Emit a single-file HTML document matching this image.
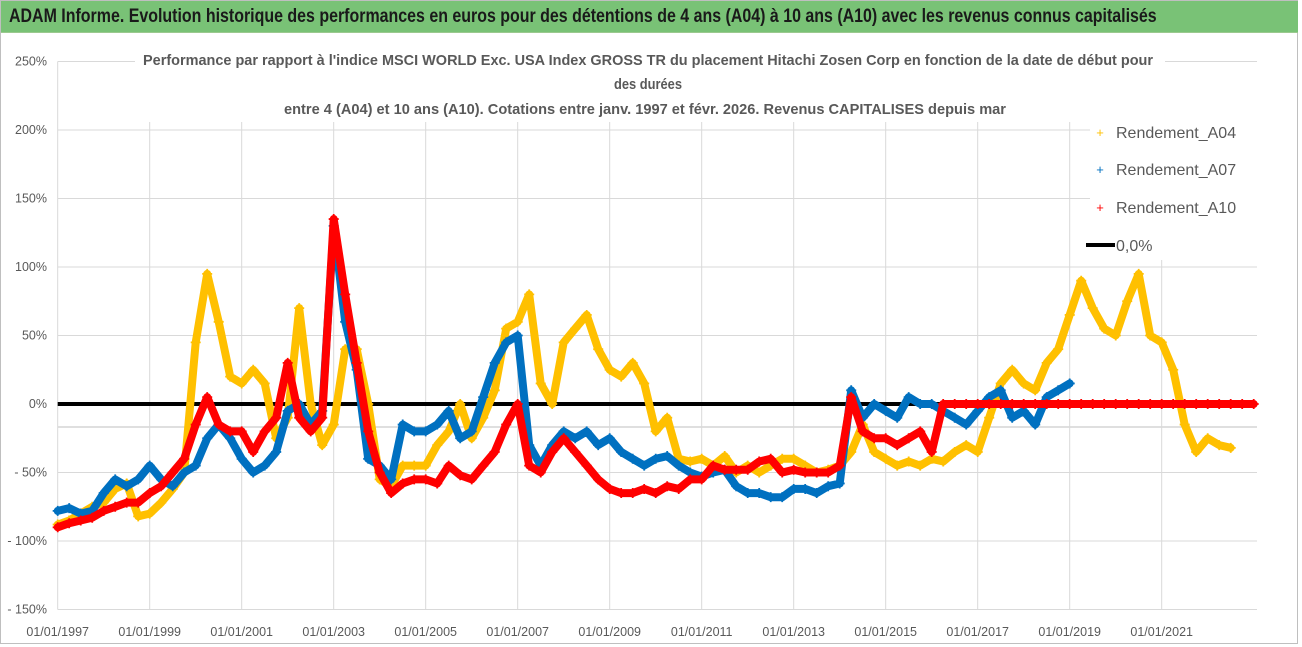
<!DOCTYPE html>
<html><head><meta charset="utf-8"><style>
html,body{margin:0;padding:0;background:#fff;}
body{width:1302px;height:647px;overflow:hidden;position:relative;font-family:"Liberation Sans",sans-serif;}
#frame{position:absolute;left:0;top:0;width:1298px;height:644px;border:1px solid #bfbfbf;box-sizing:border-box;}
#titlebar{position:absolute;left:1px;top:1px;width:1297px;height:31px;background:#79c276;border-bottom:1px solid #9bc98f;}
#titlebar span{position:absolute;left:8px;top:5px;font-weight:bold;font-size:19px;color:#1a1a1a;white-space:nowrap;transform-origin:left top;transform:scaleX(0.84);}
</style></head><body>
<div id="frame"></div>
<div id="titlebar"><span>ADAM Informe. Evolution historique des performances en euros pour des détentions de 4 ans (A04) à 10 ans (A10) avec les revenus connus capitalisés</span></div>
<svg id="chart" width="1302" height="647" style="position:absolute;left:0;top:0"></svg>
<script>
const startYear = 1997;
const stepYears = 0.25;
const xTickLabels = ["01/01/1997","01/01/1999","01/01/2001","01/01/2003","01/01/2005","01/01/2007","01/01/2009","01/01/2011","01/01/2013","01/01/2015","01/01/2017","01/01/2019","01/01/2021"];
const xTickYears = [1997,1999,2001,2003,2005,2007,2009,2011,2013,2015,2017,2019,2021];
const yTickValues = [250,200,150,100,50,0,-50,-100,-150];
const yTickLabels = ["250%","200%","150%","100%","50%","0%","- 50%","- 100%","- 150%"];
const seriesA04 = [-88,-85,-80,-75,-72,-62,-58,-82,-80,-72,-62,-50,45,95,60,20,15,25,15,-25,-10,70,0,-30,-15,40,40,0,-55,-60,-45,-45,-45,-30,-20,0,-25,-10,10,55,60,80,15,0,45,55,65,40,25,20,30,15,-20,-10,-40,-42,-40,-45,-38,-50,-45,-50,-45,-40,-40,-45,-50,-48,-45,-35,-15,-35,-40,-45,-42,-45,-40,-42,-35,-30,-35,-10,15,25,15,10,30,40,65,90,70,55,50,75,95,50,45,25,-15,-35,-25,-30,-32];
const seriesA07 = [-78,-76,-80,-78,-65,-55,-60,-55,-45,-55,-60,-50,-45,-25,-15,-25,-40,-50,-45,-35,-5,0,-15,-5,130,60,25,-40,-45,-55,-15,-20,-20,-15,-5,-25,-20,5,30,45,50,-30,-45,-30,-20,-25,-20,-30,-25,-35,-40,-45,-40,-38,-45,-50,-53,-50,-48,-60,-65,-65,-68,-68,-62,-62,-65,-60,-58,10,-10,0,-5,-10,5,0,0,-5,-10,-15,-5,5,10,-10,-5,-15,5,10,15];
const seriesA10 = [-90,-87,-85,-83,-78,-75,-72,-72,-65,-60,-50,-40,-15,5,-15,-20,-20,-35,-20,-10,30,-10,-20,-10,135,80,30,-20,-50,-65,-58,-55,-55,-58,-45,-52,-55,-45,-35,-15,0,-45,-50,-35,-25,-35,-45,-55,-62,-65,-65,-62,-65,-60,-62,-55,-55,-45,-48,-48,-48,-42,-40,-50,-48,-50,-50,-50,-45,5,-20,-25,-25,-30,-25,-20,-35,0,0,0,0,0,0,0,0,0,0,0,0,0,0,0,0,0,0,0,0,0,0,0,0,0,0,0,0];
const refValue = 0;

const svg = document.getElementById('chart');
const NS = 'http://www.w3.org/2000/svg';
const X0 = 57.7, PXY = 46, Y0 = 404, PXV = 68.5/50;
function xScale(yr){ return X0 + (yr - startYear) * PXY; }
function yScale(v){ return Y0 - v * PXV; }
function mk(tag, attrs, parent){ const e = document.createElementNS(NS, tag); for (const k in attrs) e.setAttribute(k, attrs[k]); (parent||svg).appendChild(e); return e; }

yTickValues.forEach((v,i)=>{
  const l = mk('line',{x1:X0,x2:1257,y1:yScale(v),y2:yScale(v),stroke:'#d9d9d9','stroke-width':1});
  
  
  const t = mk('text',{x:47,y:yScale(v)+4,'text-anchor':'end','font-size':12.5,fill:'#595959'});
  t.textContent = yTickLabels[i];
  
  
});
const extra = mk('line',{x1:X0,x2:1257,y1:427,y2:427,stroke:'#bfbfbf','stroke-width':1});


xTickYears.forEach((yr,i)=>{
  const l = mk('line',{x1:xScale(yr),x2:xScale(yr),y1:yScale(250),y2:yScale(-150),stroke:'#d9d9d9','stroke-width':1});
  
  
  const t = mk('text',{x:xScale(yr),y:636,'text-anchor':'middle','font-size':12.5,fill:'#595959'});
  t.textContent = xTickLabels[i];
  
  
});
const tb = mk('rect',{x:135,y:46,width:1030,height:76,fill:'#fff'});


const lb = mk('rect',{x:1090,y:110,width:180,height:150,fill:'#fff'});


const titles = ["Performance par rapport à l'indice MSCI WORLD Exc. USA Index GROSS TR  du placement Hitachi Zosen Corp en fonction de la date de début pour","des durées","entre 4 (A04) et 10 ans (A10). Cotations entre janv. 1997 et févr. 2026. Revenus CAPITALISES depuis mar"];
const tys = [65,89,114];
const txs = [648,648,645];
titles.forEach((s,i)=>{
  const t = mk('text',{x:txs[i],y:tys[i],'text-anchor':'middle','font-size':15,'font-weight':'bold',fill:'#595959',textLength:(i==0?1010:(i==1?68:722)),lengthAdjust:'spacingAndGlyphs'});
  t.textContent = s;
  
  
});

const zl = mk('line',{x1:X0,x2:1257,y1:yScale(refValue),y2:yScale(refValue),stroke:'#000','stroke-width':4});



function drawSeries(vals, color, name){
  const g = mk('g',{});
  
  
  const pts = vals.map((v,i)=>xScale(startYear+i*stepYears).toFixed(1)+','+yScale(v).toFixed(1)).join(' ');
  const pl = mk('polyline',{points:pts,fill:'none',stroke:color,'stroke-width':8,'stroke-linejoin':'round','stroke-linecap':'round'},g);
  
  
  vals.forEach((v,i)=>{
    const x = xScale(startYear+i*stepYears), y = yScale(v);
    const p = mk('path',{d:`M${x-5} ${y}H${x+5}M${x} ${y-5}V${y+5}`,stroke:color,'stroke-width':1.8},g);
    
    
  });
}
drawSeries(seriesA04,'#ffc000','series-a04');
drawSeries(seriesA07,'#0070c0','series-a07');
drawSeries(seriesA10,'#ff0000','series-a10');

const leg = [['Rendement_A04','#ffc000',137],['Rendement_A07','#0070c0',174],['Rendement_A10','#ff0000',212]];
leg.forEach(([n,c,y])=>{
  const m = mk('text',{x:1100,y:y,'text-anchor':'middle','font-size':13,fill:c});
  m.textContent = '+';
  
  
  const t = mk('text',{x:1116,y:y+1,'font-size':16,fill:'#595959'});
  t.textContent = n;
  
  
});
const ll = mk('line',{x1:1086,x2:1115,y1:245,y2:245,stroke:'#000','stroke-width':4});


const lt = mk('text',{x:1116,y:251,'font-size':16,fill:'#595959'});
lt.textContent = '0,0%';


</script>
</body></html>
